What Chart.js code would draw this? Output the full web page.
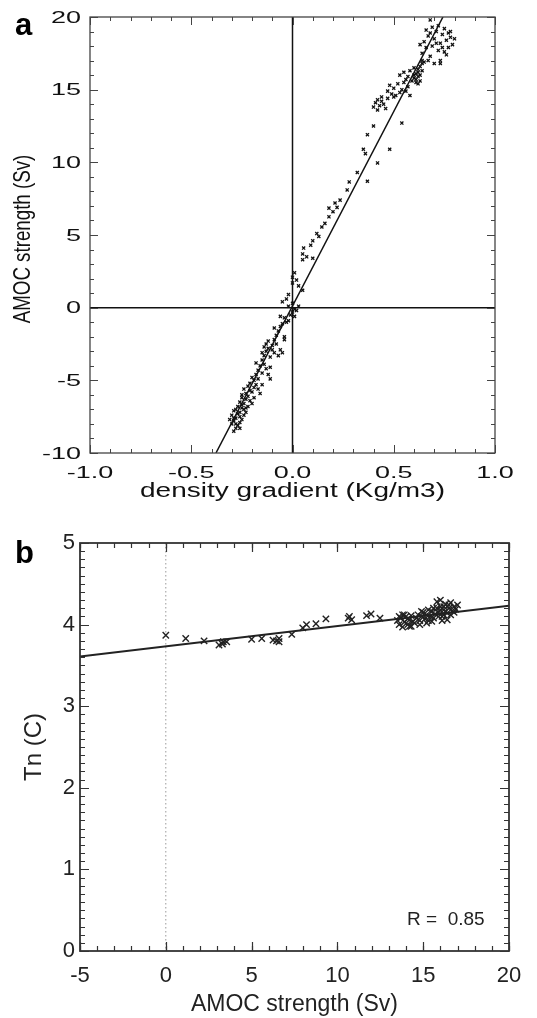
<!DOCTYPE html>
<html>
<head>
<meta charset="utf-8">
<script src="https://cdn.jsdelivr.net/npm/chart.js@4.4.1/dist/chart.umd.min.js"></script>
<style>
  html, body { margin: 0; padding: 0; background: #fff; }
  .panel { position: absolute; left: 0; width: 537px; }
  #panelA { top: 0; height: 510px; }
  #panelB { top: 510px; height: 508px; }
</style>
</head>
<body>
<div class="panel" id="panelA"><canvas id="chartA"></canvas></div>
<div class="panel" id="panelB"><canvas id="chartB"></canvas></div>
<script>
// panel a: density gradient (Kg/m3) vs AMOC strength (Sv)
const gradA = [
  -0.29, -0.28, -0.30, -0.29, -0.27, -0.28, -0.26, -0.30, -0.27, -0.25,
  -0.29, -0.26, -0.28, -0.24, -0.27, -0.25, -0.29, -0.31, -0.26, -0.28,
  -0.24, -0.26, -0.23, -0.25, -0.22, -0.24, -0.23, -0.21, -0.25, -0.22,
  -0.20, -0.23, -0.21, -0.24, -0.22, -0.20, -0.19, -0.26, -0.23, -0.25,
  -0.21, -0.19, -0.20, -0.18, -0.17, -0.16, -0.18, -0.17, -0.19, -0.15,
  -0.17, -0.16, -0.15, -0.14, -0.13, -0.18, -0.15, -0.12, -0.11, -0.11,
  -0.14, -0.13, -0.15, -0.12, -0.11, -0.10, -0.13, -0.09, -0.12, -0.10,
  -0.08, -0.09, -0.14, -0.07, -0.06, -0.05, -0.04, -0.04, -0.08, -0.07,
  -0.06, -0.05, -0.09, -0.03, -0.04, -0.02, -0.06, -0.01, 0.00, 0.01,
  0.02, 0.01, -0.02, -0.03, -0.05, -0.02, 0.00, 0.03,
  0.00, 0.00, 0.01, 0.02, 0.05, 0.03, 0.05, 0.05, 0.07, 0.10,
  0.055, 0.09, 0.10, 0.12, 0.13, 0.145, 0.16, 0.18, 0.18, 0.20,
  0.22, 0.235, 0.21, 0.27, 0.28, 0.32, 0.35, 0.36, 0.37, 0.40,
  0.37, 0.42, 0.48, 0.54,
  0.40, 0.41, 0.42, 0.43, 0.44, 0.45, 0.46, 0.42, 0.47, 0.44,
  0.47, 0.48, 0.49, 0.50, 0.51, 0.52, 0.53, 0.50, 0.54, 0.55,
  0.53, 0.55, 0.56, 0.57, 0.58, 0.59, 0.57, 0.56, 0.60, 0.58,
  0.60, 0.61, 0.61, 0.62, 0.62, 0.63, 0.63, 0.64, 0.62, 0.61,
  0.63, 0.64, 0.60, 0.62, 0.64,
  0.64, 0.66, 0.65, 0.67, 0.68, 0.69, 0.70, 0.71, 0.72, 0.73,
  0.74, 0.75, 0.76, 0.77, 0.78, 0.79, 0.66, 0.69, 0.72, 0.75,
  0.70, 0.73, 0.76, 0.68, 0.74, 0.77, 0.67, 0.65, 0.71, 0.80,
  0.78, 0.63, 0.68, 0.73
];
const amocA = [
  -8.5, -8.3, -8.0, -7.8, -8.1, -7.6, -7.9, -7.4, -7.3, -7.7,
  -7.1, -7.2, -7.0, -7.4, -6.8, -6.9, -7.6, -7.7, -8.3, -8.0,
  -6.6, -6.5, -6.3, -6.2, -6.8, -7.0, -5.9, -6.4, -6.0, -6.1,
  -6.6, -6.9, -5.7, -5.6, -5.4, -5.8, -6.2, -7.5, -7.2, -6.7,
  -5.2, -5.0, -4.8, -5.3, -5.6, -5.9, -4.6, -4.9, -5.5, -5.3,
  -4.3, -4.0, -4.5, -3.9, -4.2, -3.8, -3.6, -4.6, -4.1, -4.9,
  -3.3, -3.0, -3.1, -2.8, -3.4, -2.6, -2.5, -3.1, -2.3, -2.9,
  -2.5, -2.2, -2.7, -3.3, -2.9, -3.1, -2.0, -2.2, -1.9, -1.6,
  -1.3, -1.1, -1.4, -1.0, -0.7, -0.9, -0.6, -0.5, -0.3, -0.6,
  -0.2, -0.1, 0.1, 0.6, 0.4, 0.9, 0.3, 0.1,
  1.7, 2.1, 2.4, 1.9, 1.2, 1.5, 3.3, 3.7, 3.5, 3.4,
  4.1, 4.3, 4.6, 5.1, 4.9, 5.55, 5.8, 6.25, 6.85, 6.6,
  6.9, 7.4, 7.2, 8.1, 8.65, 9.3, 10.9, 10.6, 11.9, 12.5,
  8.7, 9.96, 10.9, 12.7,
  13.8, 14.1, 14.3, 13.9, 14.2, 14.0, 13.7, 13.6, 14.4, 14.5,
  14.9, 15.3, 14.7, 15.1, 14.6, 15.4, 14.8, 14.5, 15.0, 15.5,
  16.0, 16.2, 15.7, 15.9, 16.3, 15.6, 15.2, 14.9, 16.0, 14.6,
  15.8, 16.1, 15.5, 16.4, 15.9, 16.6, 16.0, 16.8, 16.2, 15.7,
  15.6, 16.3, 16.5, 15.4, 17.0,
  17.5, 17.9, 18.3, 18.7, 17.3, 18.0, 18.5, 19.0, 17.7, 18.2,
  18.8, 17.6, 18.4, 18.9, 18.6, 18.1, 19.1, 19.3, 19.4, 19.2,
  16.8, 17.0, 17.4, 18.9, 17.9, 17.9, 17.0, 16.9, 18.2, 18.5,
  19.0, 18.1, 19.8, 16.8
];
const fitGradA = [-0.378, 0.743];
const fitAmocA = [-10, 20];

// panel b: AMOC strength (Sv) vs Tn (C)
const amocB = [
  0.0, 1.16, 2.23, 3.1, 3.35, 3.55, 3.3, 5.0, 5.59, 6.25,
  6.6, 6.6, 6.45, 7.34, 7.98, 8.2, 8.75, 9.33, 10.63, 10.83,
  10.7, 11.7, 11.96, 12.48,
  13.5, 13.6, 13.7, 13.8, 13.9, 14.0, 14.1, 14.2, 14.3, 14.4,
  13.6, 13.9, 14.1, 14.3, 14.5, 14.6, 14.7, 14.8, 14.9, 15.0,
  15.1, 15.2, 15.3, 15.4, 15.5, 15.6, 15.7, 15.8, 15.9, 16.0,
  16.1, 16.2, 16.3, 16.4, 16.5, 16.6, 16.7, 16.8, 16.9, 17.0,
  15.8, 16.0, 16.2, 16.4, 16.1, 15.5, 15.2, 14.8, 14.2, 13.8,
  15.9, 16.3, 16.6, 16.0, 15.6, 15.3, 14.9, 16.5, 16.8, 16.2
];
const tnB = [
  3.87, 3.83, 3.80, 3.75, 3.79, 3.79, 3.76, 3.82, 3.83, 3.81,
  3.83, 3.79, 3.80, 3.88, 3.96, 4.00, 4.01, 4.07, 4.08, 4.06,
  4.10, 4.11, 4.13, 4.08,
  4.05, 4.00, 4.08, 3.97, 4.03, 4.10, 4.00, 4.06, 3.98, 4.04,
  4.10, 4.12, 4.07, 4.11, 4.02, 4.08, 4.12, 4.05, 4.10, 4.15,
  4.07, 4.12, 4.05, 4.10, 4.16, 4.08, 4.13, 4.20, 4.15, 4.22,
  4.10, 4.18, 4.25, 4.14, 4.20, 4.27, 4.17, 4.22, 4.19, 4.24,
  4.28, 4.30, 4.12, 4.06, 4.05, 4.04, 4.02, 4.00, 3.98, 4.12,
  4.10, 4.16, 4.12, 4.18, 4.20, 4.18, 4.16, 4.24, 4.15, 4.22
];
const fitAmocB = [-5, 20];
const fitTnB = [3.61, 4.23];

const SANS = "'Liberation Sans', Arial, Helvetica, sans-serif";

function toPoints(xs, ys) {
  return xs.map((x, i) => ({ x: x, y: ys[i] }));
}

function drawText(ctx, text, x, y, opts) {
  ctx.save();
  ctx.translate(x, y);
  if (opts.rotate) ctx.rotate(opts.rotate);
  ctx.scale(opts.sx || 1, opts.sy || 1);
  ctx.font = opts.font;
  ctx.fillStyle = opts.color || '#111';
  ctx.textAlign = opts.align || 'center';
  ctx.textBaseline = opts.baseline || 'middle';
  ctx.fillText(text, 0, 0);
  ctx.restore();
}

// box with inward ticks on all four sides, like the IDL plots
const frameTicks = {
  id: 'frameTicks',
  afterDatasetsDraw(chart, args, opts) {
    const { ctx, chartArea: a, scales } = chart;
    ctx.save();
    ctx.strokeStyle = opts.color;
    ctx.lineWidth = opts.tickWidth;
    const axisTicks = (scale, step, len, horizontal) => {
      const n = Math.round((scale.max - scale.min) / step);
      for (let i = 0; i <= n; i++) {
        const p = Math.round(scale.getPixelForValue(scale.min + i * step)) + 0.5;
        ctx.beginPath();
        if (horizontal) {
          ctx.moveTo(p, a.bottom); ctx.lineTo(p, a.bottom - len);
          ctx.moveTo(p, a.top); ctx.lineTo(p, a.top + len);
        } else {
          ctx.moveTo(a.left, p); ctx.lineTo(a.left + len, p);
          ctx.moveTo(a.right, p); ctx.lineTo(a.right - len, p);
        }
        ctx.stroke();
      }
    };
    axisTicks(scales.x, opts.xMinor, opts.minorLen, true);
    axisTicks(scales.x, opts.xMajor, opts.majorLen, true);
    axisTicks(scales.y, opts.yMinor, opts.minorLen, false);
    axisTicks(scales.y, opts.yMajor, opts.majorLen, false);
    ctx.lineWidth = opts.frameWidth;
    ctx.strokeRect(a.left, a.top, a.right - a.left, a.bottom - a.top);
    ctx.restore();
  }
};

// zero lines of panel a, dotted zero line of panel b
const zeroLines = {
  id: 'zeroLines',
  beforeDatasetsDraw(chart, args, opts) {
    const { ctx, chartArea: a, scales } = chart;
    ctx.save();
    ctx.strokeStyle = opts.color;
    ctx.lineWidth = opts.width;
    ctx.setLineDash(opts.dash || []);
    if (opts.vertical) {
      const x = scales.x.getPixelForValue(0);
      ctx.beginPath(); ctx.moveTo(x, a.top); ctx.lineTo(x, a.bottom); ctx.stroke();
    }
    if (opts.horizontal) {
      const y = scales.y.getPixelForValue(0);
      ctx.beginPath(); ctx.moveTo(a.left, y); ctx.lineTo(a.right, y); ctx.stroke();
    }
    ctx.restore();
  }
};

// panel a text is squashed vertically in the figure, so it is drawn by hand
const panelAText = {
  id: 'panelAText',
  afterDraw(chart) {
    const { ctx, chartArea: a, scales } = chart;
    scales.y.ticks.forEach(t => {
      drawText(ctx, String(t.value), 81, scales.y.getPixelForValue(t.value) + 1,
        { font: '27px ' + SANS, sy: 0.62, align: 'right' });
    });
    scales.x.ticks.forEach(t => {
      drawText(ctx, t.value.toFixed(1), scales.x.getPixelForValue(t.value), a.bottom + 20,
        { font: '27px ' + SANS, sy: 0.62 });
    });
    drawText(ctx, 'density gradient (Kg/m3)', (a.left + a.right) / 2, a.bottom + 39,
      { font: '28px ' + SANS, sy: 0.7 });
    drawText(ctx, 'AMOC strength (Sv)', 23, (a.top + a.bottom) / 2 + 4,
      { font: '24px ' + SANS, rotate: -Math.PI / 2, sx: 0.78 });
    drawText(ctx, 'a', 15, 35, { font: 'bold 31px ' + SANS, align: 'left', baseline: 'alphabetic', color: '#000' });
  }
};

const panelBText = {
  id: 'panelBText',
  afterDraw(chart) {
    const { ctx } = chart;
    drawText(ctx, 'b', 15, 53, { font: 'bold 31px ' + SANS, align: 'left', baseline: 'alphabetic', color: '#000' });
    drawText(ctx, 'R =  0.85', 407, 410, { font: '19px ' + SANS, align: 'left', color: '#222' });
  }
};

const noGrid = { display: false };
const noBorder = { display: false };

new Chart(document.getElementById('chartA'), {
  type: 'scatter',
  data: {
    datasets: [
      {
        data: toPoints(gradA, amocA),
        pointStyle: 'crossRot',
        pointRadius: 2.2,
        borderColor: '#111',
        borderWidth: 1.3,
        backgroundColor: '#111'
      },
      {
        type: 'line',
        data: toPoints(fitGradA, fitAmocA),
        borderColor: '#111',
        borderWidth: 1.5,
        pointRadius: 0,
        fill: false
      }
    ]
  },
  options: {
    responsive: true,
    maintainAspectRatio: false,
    animation: false,
    layout: { padding: { left: 0, right: 42, top: 17, bottom: 0 } },
    plugins: {
      legend: { display: false },
      tooltip: { enabled: false },
      frameTicks: { color: '#444', tickWidth: 1, frameWidth: 1.3, majorLen: 8, minorLen: 4,
        xMajor: 0.5, xMinor: 0.1, yMajor: 5, yMinor: 1 },
      zeroLines: { color: '#111', width: 1.5, vertical: true, horizontal: true }
    },
    scales: {
      x: {
        type: 'linear', min: -1, max: 1,
        ticks: { stepSize: 0.5, display: false },
        grid: noGrid, border: noBorder,
        afterFit(s) { s.height = 57; }
      },
      y: {
        type: 'linear', min: -10, max: 20,
        ticks: { stepSize: 5, display: false },
        grid: noGrid, border: noBorder,
        afterFit(s) { s.width = 90; }
      }
    }
  },
  plugins: [zeroLines, frameTicks, panelAText]
});

new Chart(document.getElementById('chartB'), {
  type: 'scatter',
  data: {
    datasets: [
      {
        data: toPoints(amocB, tnB),
        pointStyle: 'crossRot',
        pointRadius: 4.5,
        borderColor: '#222',
        borderWidth: 1.4
      },
      {
        type: 'line',
        data: toPoints(fitAmocB, fitTnB),
        borderColor: '#222',
        borderWidth: 2,
        pointRadius: 0,
        fill: false
      }
    ]
  },
  options: {
    responsive: true,
    maintainAspectRatio: false,
    animation: false,
    layout: { padding: { left: 0, right: 28, top: 33, bottom: 0 } },
    plugins: {
      legend: { display: false },
      tooltip: { enabled: false },
      frameTicks: { color: '#333', tickWidth: 1.2, frameWidth: 1.8, majorLen: 9, minorLen: 5,
        xMajor: 5, xMinor: 1, yMajor: 1, yMinor: 0.1 },
      zeroLines: { color: '#999', width: 1, dash: [1.5, 2.5], vertical: true }
    },
    scales: {
      x: {
        type: 'linear', min: -5, max: 20,
        ticks: { stepSize: 5, color: '#222', padding: 12, font: { family: SANS, size: 22 } },
        grid: { display: false, drawTicks: false }, border: noBorder,
        title: { display: true, text: 'AMOC strength (Sv)', color: '#222',
          font: { family: SANS, size: 23 }, padding: { top: 0, bottom: 0 } },
        afterFit(s) { s.height = 67; }
      },
      y: {
        type: 'linear', min: 0, max: 5,
        ticks: { stepSize: 1, color: '#222', padding: 5, font: { family: SANS, size: 22 } },
        grid: { display: false, drawTicks: false }, border: noBorder,
        title: { display: true, text: 'Tn (C)', color: '#222',
          font: { family: SANS, size: 24 }, padding: { top: 20, bottom: 0 } },
        afterFit(s) { s.width = 80; }
      }
    }
  },
  plugins: [zeroLines, frameTicks, panelBText]
});
</script>
</body>
</html>
